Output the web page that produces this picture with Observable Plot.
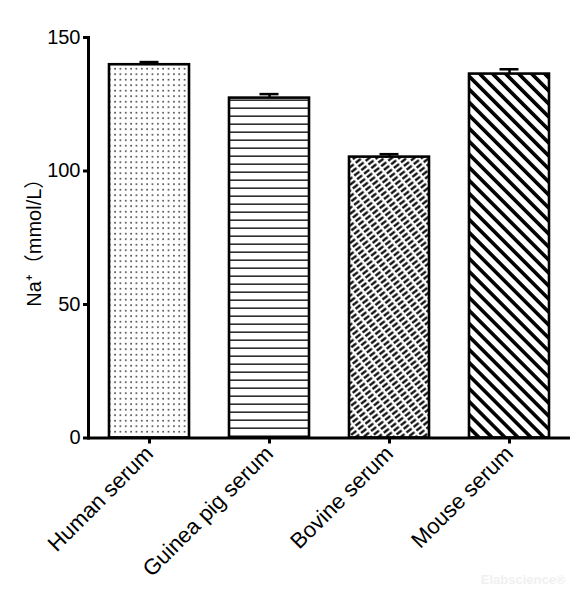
<!DOCTYPE html>
<html>
<head>
<meta charset="utf-8">
<script src="https://cdn.jsdelivr.net/npm/d3@7"></script>
<script src="https://cdn.jsdelivr.net/npm/@observablehq/plot@0.6"></script>
<style>
  html, body { margin: 0; padding: 0; background: white; }
</style>
</head>
<body>
<div id="chart"></div>
<script>
const categories = ["Human serum", "Guinea pig serum", "Bovine serum", "Mouse serum"];
const values = [139.8, 127.3, 105.2, 136.3];
const errors = [1.0, 1.5, 1.1, 1.8];
const yTicks = [0, 50, 100, 150];
const yLabel = "Na⁺（mmol/L）";
const watermark = "Elabscience®";

const patternIds = ["pat-dots", "pat-hlines", "pat-bricks", "pat-stripes"];

const data = categories.map((c, i) => ({cat: c, value: values[i], err: errors[i]}));

const bars = data.map((d, i) =>
  Plot.barY([d], {x: "cat", y: "value", fill: `url(#${patternIds[i]})`, stroke: "black", strokeWidth: 2.6})
);

const chart = Plot.plot({
  width: 583,
  height: 600,
  marginLeft: 88,
  marginRight: 13,
  marginTop: 37,
  marginBottom: 162.5,
  style: {fontFamily: "'Liberation Sans', Arial, 'Noto Sans CJK SC', sans-serif", color: "black", background: "white", overflow: "visible"},
  x: {domain: categories, paddingInner: 0.33, paddingOuter: 0.165, label: null},
  y: {domain: [0, 150], label: null},
  marks: [
    ...bars,
    Plot.ruleX(data, {x: "cat", y1: "value", y2: d => d.value + d.err, strokeWidth: 2.5}),
    Plot.tickY(data, {x: "cat", y: d => d.value + d.err, strokeWidth: 2.5, insetLeft: 30.5, insetRight: 30.5}),
    Plot.axisY({ticks: yTicks, tickSize: 5, tickPadding: 3, fontSize: 20, strokeWidth: 3,
      label: yLabel, labelAnchor: "center", labelArrow: "none", labelOffset: 62}),
    Plot.axisX({tickSize: 6, tickRotate: -45, fontSize: 22, strokeWidth: 3, tickPadding: 6, label: null}),
    Plot.ruleY([0], {strokeWidth: 3}),
    Plot.frame({anchor: "left", strokeWidth: 3}),
    Plot.text([watermark], {frameAnchor: "bottom-right", dx: -5, dy: 146, fill: "#f0f0f0", fontWeight: "bold", fontSize: 13, textAnchor: "end", text: d => d})
  ]
});

// pattern definitions
const svg = d3.select(chart);
const defs = svg.insert("defs", ":first-child");

const dots = defs.append("pattern").attr("id", "pat-dots").attr("patternUnits", "userSpaceOnUse")
  .attr("width", 5.35).attr("height", 5.5);
dots.append("rect").attr("width", 5.35).attr("height", 5.5).attr("fill", "white");
dots.append("rect").attr("x", 2).attr("y", 2).attr("width", 1.4).attr("height", 1.4).attr("fill", "#000");

const hl = defs.append("pattern").attr("id", "pat-hlines").attr("patternUnits", "userSpaceOnUse")
  .attr("width", 10).attr("height", 8);
hl.append("rect").attr("width", 10).attr("height", 8).attr("fill", "white");
hl.append("rect").attr("x", 0).attr("y", 3.5).attr("width", 10).attr("height", 1.3).attr("fill", "black");

const br = defs.append("pattern").attr("id", "pat-bricks").attr("patternUnits", "userSpaceOnUse")
  .attr("width", 9).attr("height", 4.6).attr("patternTransform", "rotate(-38)");
br.append("rect").attr("width", 9).attr("height", 4.6).attr("fill", "white");
br.append("rect").attr("x", 0).attr("y", 1.2).attr("width", 6.5).attr("height", 2.2).attr("fill", "black");

const st = defs.append("pattern").attr("id", "pat-stripes").attr("patternUnits", "userSpaceOnUse")
  .attr("width", 9.2).attr("height", 10).attr("patternTransform", "rotate(-45)");
st.append("rect").attr("width", 9.2).attr("height", 10).attr("fill", "white");
st.append("rect").attr("x", 0).attr("y", 0).attr("width", 3.6).attr("height", 10).attr("fill", "black");

document.getElementById("chart").appendChild(chart);
</script>
</body>
</html>
